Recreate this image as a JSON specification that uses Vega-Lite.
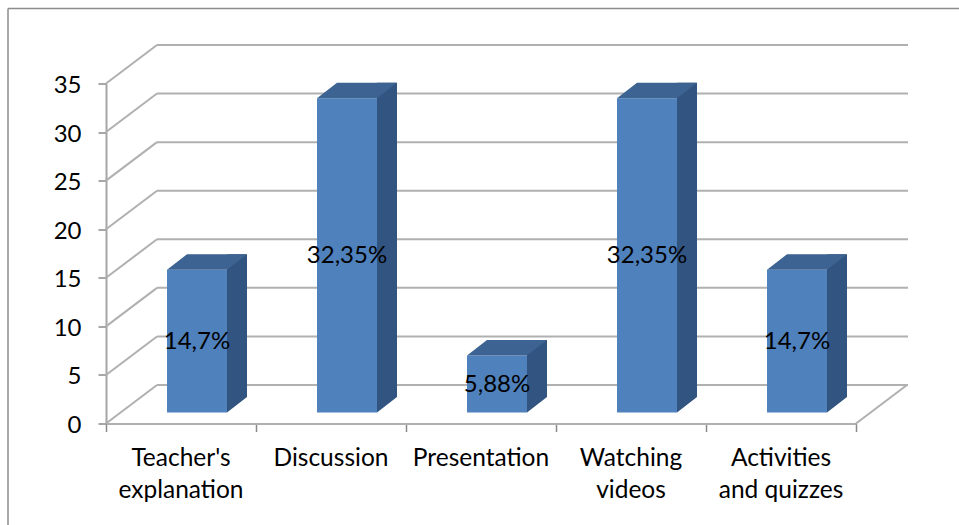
{
  "$schema": "https://vega.github.io/schema/vega-lite/v6.json",
  "width": 750,
  "height": 340,
  "padding": {"left": 106, "top": 83.5, "right": 103, "bottom": 101.5},
  "autosize": "none",
  "background": "white",
  "config": {"view": {"stroke": null}, "font": "Lato"},
  "datasets": {
    "bars": [
      {"activity": "Teacher's\nexplanation", "pos": 0, "value": 14.7, "label": "14,7%"},
      {"activity": "Discussion", "pos": 1, "value": 32.35, "label": "32,35%"},
      {"activity": "Presentation", "pos": 2, "value": 5.88, "label": "5,88%"},
      {"activity": "Watching\nvideos", "pos": 3, "value": 32.35, "label": "32,35%"},
      {"activity": "Activities\nand quizzes", "pos": 4, "value": 14.7, "label": "14,7%"}
    ],
    "grid": [
      {"value": 0}, {"value": 5}, {"value": 10}, {"value": 15},
      {"value": 20}, {"value": 25}, {"value": 30}, {"value": 35}
    ],
    "frame": [{"part": "chart area"}],
    "floor": [{"value": 0}]
  },
  "resolve": {"scale": {"y": "independent"}},
  "layer": [
    {
      "layer": [
        {
          "data": {"name": "grid"},
          "mark": {"type": "rule", "color": "#b0b0b0", "strokeWidth": 2, "xOffset": 51, "x2Offset": 52, "yOffset": -38.5},
          "encoding": {
            "x": {"datum": 0, "type": "quantitative", "scale": {"domain": [0, 5], "nice": false, "zero": false}, "title": null,
              "axis": {"values": [0, 1, 2, 3, 4, 5], "labels": false, "tickSize": 8, "tickColor": "#8a8a8a", "tickWidth": 1.5, "domainColor": "#b0b0b0", "domainWidth": 2, "grid": false, "title": null}},
            "x2": {"datum": 5},
            "y": {"field": "value", "type": "quantitative", "scale": {"domain": [0, 35], "nice": false}, "title": null,
              "axis": {"values": [0, 5, 10, 15, 20, 25, 30, 35], "tickSize": 8, "tickColor": "#8a8a8a", "tickWidth": 1.5, "domainColor": "#a6a6a6", "domainWidth": 2, "grid": false, "labelFontSize": 24, "labelFont": "Lato", "labelColor": "#000000", "labelPadding": 17, "labelOffset": 2, "title": null}}
          }
        },
        {
          "data": {"name": "frame"},
          "mark": {"type": "rule", "color": "#8c8c8c", "strokeWidth": 1.5, "xOffset": -98, "yOffset": -75, "y2Offset": 110},
          "encoding": {"x": {"datum": 0}, "y": {"datum": 35}, "y2": {"datum": 0}}
        },
        {
          "data": {"name": "frame"},
          "mark": {"type": "rule", "color": "#8c8c8c", "strokeWidth": 1.5, "xOffset": -98, "x2Offset": 110, "yOffset": -75},
          "encoding": {"x": {"datum": 0}, "x2": {"datum": 5}, "y": {"datum": 35}}
        },
        {
          "data": {"name": "grid"},
          "mark": {"type": "rule", "color": "#b0b0b0", "strokeWidth": 2, "x2Offset": 51, "y2Offset": -38.5},
          "encoding": {"x": {"datum": 0}, "x2": {"datum": 0}, "y": {"field": "value", "type": "quantitative"}, "y2": {"field": "value"}}
        },
        {
          "data": {"name": "floor"},
          "mark": {"type": "rule", "color": "#b0b0b0", "strokeWidth": 2, "x2Offset": 51, "y2Offset": -38.5},
          "encoding": {"x": {"datum": 5}, "x2": {"datum": 5}, "y": {"field": "value", "type": "quantitative"}, "y2": {"field": "value"}}
        },
        {
          "data": {"name": "bars"},
          "encoding": {
            "x": {"field": "pos", "type": "quantitative"},
            "y": {"field": "value", "type": "quantitative"}
          },
          "layer": [
            {
              "mark": {"type": "rect", "color": "#325480", "xOffset": 121, "x2Offset": 141, "yOffset": -26.5, "y2Offset": -26.5},
              "encoding": {"x2": {"field": "pos"}, "y2": {"datum": 0}}
            },
            {
              "mark": {"type": "point", "shape": "M0 0L20 -15.5L0 -15.5Z", "size": 4, "filled": true, "opacity": 1, "strokeWidth": 0, "color": "#325480", "xOffset": 121, "yOffset": -11},
              "encoding": {"y": {"datum": 0}}
            },
            {
              "mark": {"type": "rect", "color": "#4f81bd", "xOffset": 61, "x2Offset": 121, "yOffset": -11, "y2Offset": -11},
              "encoding": {"x2": {"field": "pos"}, "y2": {"datum": 0}}
            },
            {
              "mark": {"type": "point", "shape": "M0 0L60 0L80 -15.5L20 -15.5Z", "size": 4, "filled": true, "opacity": 1, "strokeWidth": 0, "color": "#3c6391", "xOffset": 61, "yOffset": -11},
              "encoding": {}
            },
            {
              "mark": {"type": "text", "font": "Lato", "fontSize": 24.5, "color": "#000000", "align": "center", "baseline": "alphabetic", "lineBreak": "\n", "lineHeight": 32, "xOffset": 75, "yOffset": 42},
              "encoding": {"y": {"datum": 0}, "text": {"field": "activity"}}
            }
          ]
        }
      ]
    },
    {
      "data": {"name": "bars"},
      "mark": {"type": "text", "font": "Lato", "fontSize": 24, "color": "#000000", "align": "center", "baseline": "middle", "xOffset": 91, "yOffset": -10},
      "encoding": {
        "x": {"field": "pos", "type": "quantitative"},
        "y": {"field": "value", "type": "quantitative", "scale": {"domain": [0, 70], "nice": false}, "axis": null},
        "text": {"field": "label"}
      }
    }
  ]
}
